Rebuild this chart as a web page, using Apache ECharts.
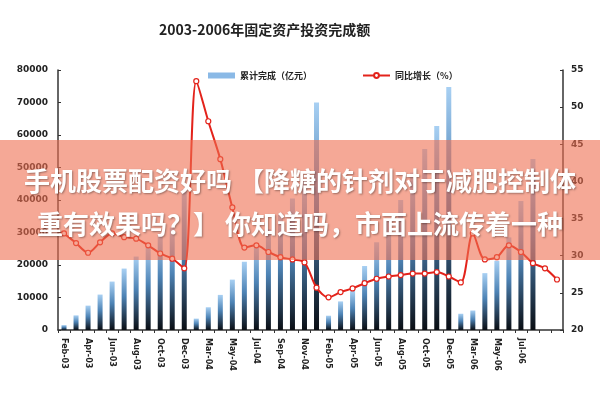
<!DOCTYPE html>
<html>
<head>
<meta charset="utf-8">
<script src="https://cdn.jsdelivr.net/npm/echarts@6/dist/echarts.min.js"></script>
<style>html,body{margin:0;padding:0;background:#fff;}#c{width:600px;height:400px;}</style>
</head>
<body>
<div id="c"></div>
<script>
// Categories (monthly cumulative, Jan merged into Feb)
var categories = [
  'Feb-03','Mar-03','Apr-03','May-03','Jun-03','Jul-03','Aug-03','Sep-03','Oct-03','Nov-03','Dec-03',
  'Feb-04','Mar-04','Apr-04','May-04','Jun-04','Jul-04','Aug-04','Sep-04','Oct-04','Nov-04','Dec-04',
  'Feb-05','Mar-05','Apr-05','May-05','Jun-05','Jul-05','Aug-05','Sep-05','Oct-05','Nov-05','Dec-05',
  'Feb-06','Mar-06','Apr-06','May-06','Jun-06','Jul-06','Aug-06','Sep-06','Oct-06'
];
// 累计完成（亿元）
var completed = [
  1500, 4500, 7500, 10900, 14900, 18900, 22600, 25500, 29700, 31500, 43200,
  3500, 7000, 10800, 15500, 21000, 26500, 31000, 35500, 40500, 46000, 70000,
  4400, 8800, 12000, 19700, 27000, 33500, 40000, 48500, 55700, 62800, 74800,
  5000, 6000, 17500, 21300, 28500, 39700, 52600, null, null
];
// 同比增长（%）
var growth = [
  33.0, 31.7, 30.4, 31.8, 33.0, 32.5, 32.3, 31.4, 30.3, 29.6, 28.3,
  53.5, 48.1, 43.0, 36.5, 31.1, 31.4, 30.5, 29.8, 29.5, 29.1, 25.7,
  24.4, 25.1, 25.6, 26.3, 26.9, 27.2, 27.4, 27.6, 27.6, 27.8, 27.2,
  26.4, 33.0, 29.5, 29.8, 31.4, 30.5, 29.0, 28.3, 26.8
];
var leftTicks = {min: 0, max: 80000, step: 10000};
var rightTicks = {min: 20, max: 55, step: 5};
var titleText = '2003-2006年固定资产投资完成额';
var seriesNames = ['累计完成（亿元）', '同比增长（%）'];
var overlayLines = ['手机股票配资好吗 【降糖的针剂对于减肥控制体', '重有效果吗？】 你知道吗，市面上流传着一种'];

var chart = echarts.init(document.getElementById('c'), null, {renderer: 'canvas'});
var barGrad = new echarts.graphic.LinearGradient(0, 0, 0, 1, [
  {offset: 0, color: '#a8d0f3'},
  {offset: 0.45, color: '#4d83b5'},
  {offset: 1, color: '#0a0e14'}
]);
var lblFont = {fontFamily: 'DejaVu Sans', fontWeight: 'bold', fontSize: 8, color: '#222'};
chart.setOption({
  animation: false,
  backgroundColor: '#fff',
  title: {
    text: titleText, left: 154, top: 18,
    textStyle: {fontFamily: 'Noto Sans CJK SC', fontWeight: 'bold', fontSize: 14, color: '#222'}
  },
  legend: {
    left: 203, top: 66, itemGap: 50, itemWidth: 27, itemHeight: 6,
    textStyle: {fontFamily: 'Noto Sans CJK SC', fontWeight: 'bold', fontSize: 9, color: '#222'},
    data: [
      {name: seriesNames[0], icon: 'rect', itemStyle: {color: '#8ab9e6'}},
      {name: seriesNames[1]}
    ]
  },
  grid: {left: 58, right: 37, top: 70, bottom: 70},
  xAxis: {
    type: 'category', data: categories, boundaryGap: true,
    axisLine: {lineStyle: {color: '#333', width: 1.5}},
    axisTick: {show: true, interval: 0, length: 3, lineStyle: {color: '#333'}},
    axisLabel: Object.assign({rotate: -90, margin: 8, interval: function (i) { return i % 2 === 0 && i < 40; }}, lblFont)
  },
  yAxis: [
    {type: 'value', min: leftTicks.min, max: leftTicks.max, interval: leftTicks.step,
     axisLine: {show: true, lineStyle: {color: '#333', width: 1.5}},
     axisTick: {show: true, inside: true, length: 3, lineStyle: {color: '#333'}},
     splitLine: {show: false},
     axisLabel: Object.assign({margin: 10, formatter: function (v) { return String(v); }}, lblFont, {fontSize: 9})},
    {type: 'value', min: rightTicks.min, max: rightTicks.max, interval: rightTicks.step,
     axisLine: {show: true, lineStyle: {color: '#333', width: 1.5}},
     axisTick: {show: true, inside: true, length: 3, lineStyle: {color: '#333'}},
     splitLine: {show: false},
     axisLabel: Object.assign({margin: 8, formatter: function (v) { return String(v); }}, lblFont, {fontSize: 9})}
  ],
  series: [
    {name: seriesNames[0], type: 'bar', data: completed, barWidth: 5, yAxisIndex: 0,
     itemStyle: {color: barGrad}},
    {name: seriesNames[1], type: 'line', data: growth, yAxisIndex: 1, smooth: 0.3,
     symbol: 'circle', symbolSize: 5, showSymbol: true,
     lineStyle: {color: '#e3231b', width: 2},
     itemStyle: {color: '#fff', borderColor: '#e3231b', borderWidth: 1.2}}
  ],
  graphic: [
    {type: 'rect', left: 0, top: 140, shape: {width: 600, height: 120}, z: 100,
     style: {fill: 'rgba(238,110,80,0.6)'}},
    {type: 'text', left: 'center', top: 168, z: 101,
     style: {text: overlayLines[0], fill: '#fff', font: 'bold 26px "Noto Sans CJK SC"',
             textShadowColor: 'rgba(0,0,0,0.35)', textShadowBlur: 2, textShadowOffsetX: 1, textShadowOffsetY: 1}},
    {type: 'text', left: 'center', top: 211, z: 101,
     style: {text: overlayLines[1], fill: '#fff', font: 'bold 26px "Noto Sans CJK SC"',
             textShadowColor: 'rgba(0,0,0,0.35)', textShadowBlur: 2, textShadowOffsetX: 1, textShadowOffsetY: 1}}
  ]
});
</script>
</body>
</html>
